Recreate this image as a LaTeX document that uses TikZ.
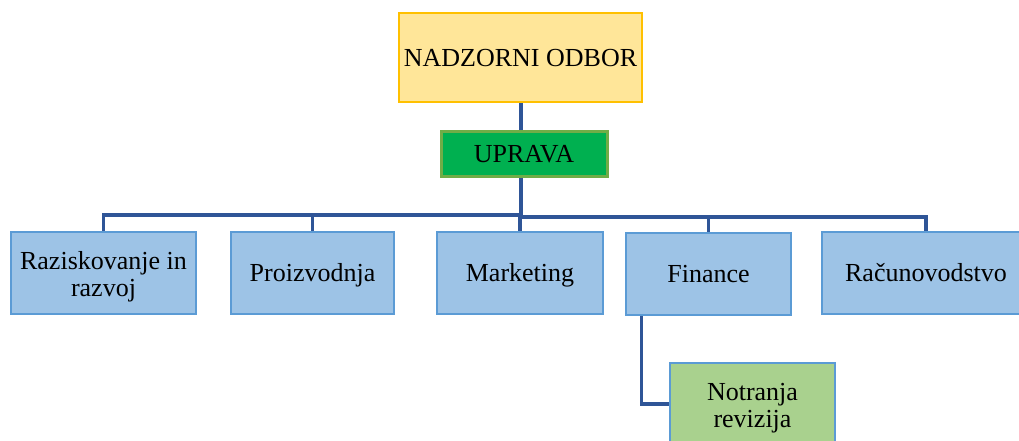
\documentclass[tikz,border=0pt]{standalone}
\usepackage{fontspec}
\setmainfont{Liberation Serif}
\definecolor{linec}{RGB}{47,85,151}
\definecolor{ylfill}{RGB}{255,230,153}
\definecolor{ylline}{RGB}{255,192,0}
\definecolor{grfill}{RGB}{0,176,80}
\definecolor{grline}{RGB}{112,173,71}
\definecolor{blfill}{RGB}{157,195,230}
\definecolor{blline}{RGB}{91,155,213}
\definecolor{lgfill}{RGB}{169,209,142}
\begin{document}
\begin{tikzpicture}[x=1pt,y=-1pt,
  txt/.style={font=\fontsize{26}{27}\selectfont},
  one/.style={text height=17.2pt,text depth=0pt},
  box/.style={draw=blline,fill=blfill,line width=2.8pt,inner sep=0pt,align=center,
    txt,minimum height=82pt},
  conn/.style={draw=linec,line width=3.2pt}]
\useasboundingbox (0,0) rectangle (1019,441);
\node[draw=ylline,fill=ylfill,line width=2.8pt,inner sep=0pt,minimum width=243pt,minimum height=89pt,
  txt,one] (nad) at (520.5,57.5) {NADZORNI ODBOR};
\node[draw=grline,fill=grfill,line width=3pt,inner sep=0pt,minimum width=166pt,minimum height=45pt,
  txt,one] (upr) at (524,153.5) {UPRAVA};
\node[box,minimum width=185pt] (raz) at (103.5,273) {\rule{0pt}{25pt}Raziskovanje in\\razvoj};
\node[box,one,minimum width=163pt] (pro) at (312.5,273) {Proizvodnja};
\node[box,one,minimum width=166pt] (mkt) at (520,273) {Marketing};
\node[box,one,minimum width=165pt] (fin) at (708.5,274) {Finance};
\node[box,one,minimum width=208pt] (rac) at (926,273) {Računovodstvo};
\node[box,fill=lgfill,minimum width=165pt] (notr) at (752.5,404) {\rule{0pt}{25pt}Notranja\\revizija};
\coordinate (busL) at (521,215);
\coordinate (busR) at (521,217);
\draw[conn] (nad.south -| 521,0) -- (upr.north -| 521,0);
\draw[conn] (upr.south -| busR) -- (busR);
\draw[conn] (raz.north) |- (busL);
\draw[conn] (pro.north) |- (busL);
\draw[conn] (mkt.north) -- (mkt.north |- busL);
\draw[conn] (fin.north) |- (busR);
\draw[conn] (rac.north) |- (busR);
\draw[conn] ([xshift=17pt]fin.south west) |- (notr.west);
\end{tikzpicture}
\end{document}
